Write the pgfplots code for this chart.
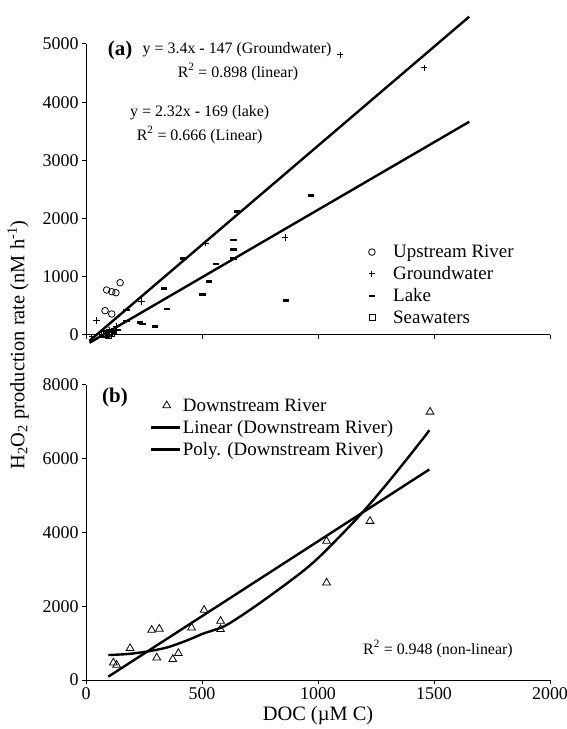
\documentclass[border=0pt]{standalone}
\usepackage{fontspec}
\setmainfont{Liberation Serif}
\usepackage{pgfplots}
\pgfplotsset{compat=1.18}

\newcommand{\tkfont}{\fontsize{18}{21}\selectfont}
\newcommand{\lbfont}{\fontsize{20.5}{24}\selectfont}
\newcommand{\lgfont}{\fontsize{19}{22}\selectfont}
\newcommand{\anfont}{\fontsize{16}{19}\selectfont}

\pgfplotsset{
  panel/.style={
    scale only axis, width=464bp,
    xmin=0, xmax=2000, xtick={0,500,...,2000},
    axis lines=left, axis line style={-, line width=1bp},
    tick align=outside, major tick length=4bp,
    tick style={black, line width=1bp},
    tick label style={font=\tkfont},
    /pgf/number format/assume math mode=true,
    /pgf/number format/1000 sep={},
    clip=false,
    legend cell align=left,
  },
  trend/.style={black, line width=2.4bp, no markers},
  longline/.style={legend image code/.code={%
    \draw[black, line width=2.4bp] (0bp,0bp) -- (29bp,0bp);}},
  markimg/.style 2 args={legend image code/.code={%
    \path (0bp,0bp) (#1,0bp);
    \draw[##1] plot coordinates {(#2,0bp)};}},
}

\begin{document}
\begin{tikzpicture}
\useasboundingbox (-86bp,-49bp) rectangle (481bp,680bp);
% ---------- (a) ----------
\begin{axis}[panel, at={(0bp,345bp)}, height=291bp,
    ymin=0, ymax=5000, ytick={0,1000,...,5000}, xticklabels={},
    legend style={draw=none, fill=none, font=\lgfont, at={(rel axis cs:0.585,0.32)},
      anchor=north west, row sep=5.5bp, nodes={inner ysep=1bp}}]
\addplot[only marks, mark=o, mark size=3.3bp, black, thick, markimg={28bp}{10bp}] coordinates {
  (89,773) (111,744) (129,727) (147,899) (82,418) (111,361) (90,90) (100,40)
};
\addlegendentry{Upstream River}
\addplot[only marks, mark=+, mark size=3.2bp, black, line width=1bp, markimg={28bp}{10bp}] coordinates {
  (46,246) (240,573) (515,1580) (858,1678) (1095,4811) (1457,4588)
  (25,-30) (110,60) (130,150)
};
\addlegendentry{Groundwater}
\addplot[only marks, mark=-, mark size=3.2bp, black, line width=2.6bp, markimg={28bp}{10bp}] coordinates {
  (970,2400) (635,1632) (635,1472) (635,1317) (560,1220) (530,916) (503,699)
  (862,596) (652,2119) (420,1318) (336,802) (348,447) (233,211) (244,189)
  (297,143) (175,430) (175,240) (139,86) (120,40)
};
\addlegendentry{Lake}
\addplot[only marks, mark=square, mark size=3bp, black, thick, markimg={28bp}{10bp}] coordinates {
  (70,10) (80,30) (90,15) (100,50) (110,25) (95,0)
};
\addlegendentry{Seawaters}
\addplot[trend, forget plot] coordinates {(15,-100) (1652,5470)};
\addplot[trend, forget plot] coordinates {(15,-134) (1652,3664)};
\node[font=\fontsize{21}{24}\selectfont\bfseries] at (axis cs:147,4897) {(a)};
\node[font=\anfont] at (axis cs:651,4897) {y = 3.4x - 147 (Groundwater)};
\node[font=\anfont] at (axis cs:655,4519) {R\textsuperscript{2} = 0.898 (linear)};
\node[font=\anfont] at (axis cs:490,3814) {y = 2.32x - 169 (lake)};
\node[font=\anfont] at (axis cs:490,3436) {R\textsuperscript{2} = 0.666 (Linear)};
\end{axis}

% ---------- (b) ----------
\begin{axis}[panel, at={(0bp,0bp)}, height=295bp,
    ymin=0, ymax=8000, ytick={0,2000,...,8000},
    xlabel={DOC (µM C)}, xlabel style={font=\lbfont},
    legend style={draw=none, fill=none, font=\lgfont, at={(rel axis cs:0.13,0.965)},
      anchor=north west, row sep=5.5bp, nodes={inner ysep=1bp}}]
\addplot[only marks, mark=triangle, mark size=4.5bp, black, thick, markimg={29bp}{16bp}] coordinates {
  (118,470) (132,407) (190,859) (283,1355) (316,1382) (305,604) (374,561)
  (398,723) (455,1417) (509,1897) (580,1599) (580,1374)
  (1037,2637) (1037,3767) (1224,4309) (1483,7271)
};
\addlegendentry{Downstream River}
\addplot[trend, longline] coordinates {(96,90) (1480,5710)};
\addlegendentry{Linear (Downstream River)}
\addplot[trend, smooth, longline] coordinates {
  (96,677) (180,705) (261,770) (348,880) (434,1070) (506,1260) (592,1446)
  (664,1720) (750,2090) (879,2680) (960,3080) (1037,3530) (1181,4470) (1310,5420)
  (1447,6500) (1480,6775)
};
\addlegendentry{Poly. (Downstream River)}
\node[font=\fontsize{21}{24}\selectfont\bfseries] at (axis cs:125,7669) {(b)};
\node[font=\anfont] at (axis cs:1517,840) {R\textsuperscript{2} = 0.948 (non-linear)};
\end{axis}

\node[rotate=90, font=\lbfont] at (-68bp,335bp)
  {H\textsubscript{2}O\textsubscript{2} production rate (nM h\textsuperscript{-1})};
\end{tikzpicture}
\end{document}
